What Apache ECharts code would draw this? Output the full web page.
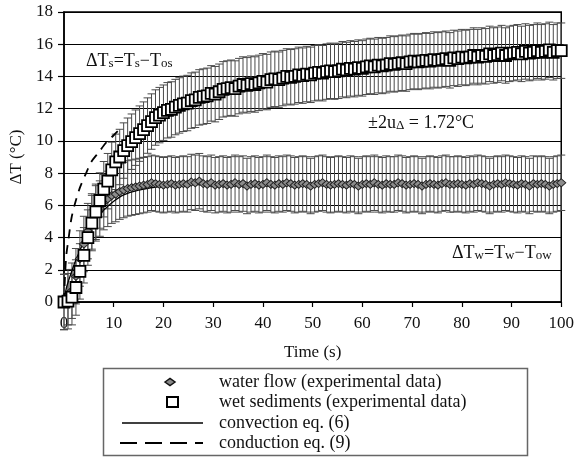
<!DOCTYPE html>
<html>
<head>
<meta charset="utf-8">
<script src="https://cdn.jsdelivr.net/npm/echarts@6/dist/echarts.min.js"></script>
<style>
html, body { margin: 0; padding: 0; background: #fff; }
#chart { width: 577px; height: 460px; }
</style>
</head>
<body>
<div id="chart"></div>
<script>
// sampling times (s)
var times = [
    0, 0.8, 1.6, 2.4, 3.2, 4, 4.8, 5.6, 6.4, 7.2,
    8, 8.8, 9.6, 10.4, 11.2, 12, 12.8, 13.6, 14.4, 15.2,
    16, 16.8, 17.6, 18.4, 19.2, 20, 20.8, 21.6, 22.4, 23.2,
    24, 24.8, 25.6, 26.4, 27.2, 28, 28.8, 29.6, 30.4, 31.2,
    32, 32.8, 33.6, 34.4, 35.2, 36, 36.8, 37.6, 38.4, 39.2,
    40, 40.8, 41.6, 42.4, 43.2, 44, 44.8, 45.6, 46.4, 47.2,
    48, 48.8, 49.6, 50.4, 51.2, 52, 52.8, 53.6, 54.4, 55.2,
    56, 56.8, 57.6, 58.4, 59.2, 60, 60.8, 61.6, 62.4, 63.2,
    64, 64.8, 65.6, 66.4, 67.2, 68, 68.8, 69.6, 70.4, 71.2,
    72, 72.8, 73.6, 74.4, 75.2, 76, 76.8, 77.6, 78.4, 79.2,
    80, 80.8, 81.6, 82.4, 83.2, 84, 84.8, 85.6, 86.4, 87.2,
    88, 88.8, 89.6, 90.4, 91.2, 92, 92.8, 93.6, 94.4, 95.2,
    96, 96.8, 97.6, 98.4, 99.2, 100
];

// water flow (experimental data)
var waterFlow = [
    0.0, 0.3, 0.7, 1.6, 2.7, 3.6, 4.4, 5.0, 5.5, 5.8,
    6.2, 6.4, 6.6, 6.7, 6.85, 6.95, 7.05, 7.1, 7.15, 7.2,
    7.25, 7.3, 7.4, 7.35, 7.3, 7.25, 7.3, 7.35, 7.25, 7.3,
    7.35, 7.3, 7.45, 7.4, 7.5, 7.35, 7.3, 7.4, 7.25, 7.3,
    7.35, 7.25, 7.3, 7.4, 7.3, 7.35, 7.2, 7.3, 7.35, 7.25,
    7.3, 7.4, 7.3, 7.25, 7.35, 7.3, 7.4, 7.35, 7.25, 7.3,
    7.35, 7.3, 7.2, 7.3, 7.35, 7.4, 7.3, 7.25, 7.3, 7.35,
    7.3, 7.25, 7.35, 7.3, 7.2, 7.3, 7.35, 7.3, 7.4, 7.3,
    7.25, 7.35, 7.3, 7.3, 7.4, 7.35, 7.25, 7.3, 7.35, 7.3,
    7.2, 7.3, 7.35, 7.3, 7.25, 7.35, 7.4, 7.3, 7.3, 7.35,
    7.3, 7.25, 7.35, 7.3, 7.4, 7.35, 7.3, 7.2, 7.3, 7.35,
    7.3, 7.4, 7.35, 7.3, 7.25, 7.35, 7.3, 7.2, 7.35, 7.3,
    7.35, 7.3, 7.2, 7.3, 7.35, 7.4
];

// wet sediments (experimental data)
var wetSediments = [
    0.0, 0.05, 0.3, 0.9, 1.9, 2.9, 4.0, 4.9, 5.6, 6.3,
    7.0, 7.5, 8.2, 8.7, 9.0, 9.4, 9.7, 9.95, 10.2, 10.45,
    10.7, 10.95, 11.2, 11.45, 11.6, 11.75, 11.9, 11.95, 12.1, 12.2,
    12.3, 12.35, 12.5, 12.55, 12.7, 12.75, 12.8, 12.95, 12.9, 13.05,
    13.2, 13.25, 13.3, 13.25, 13.4, 13.5, 13.45, 13.55, 13.5, 13.6,
    13.7, 13.65, 13.8, 13.85, 13.8, 13.9, 14.0, 13.95, 14.0, 14.1,
    14.05, 14.15, 14.1, 14.2, 14.25, 14.2, 14.3, 14.35, 14.3, 14.35,
    14.45, 14.4, 14.5, 14.45, 14.55, 14.5, 14.6, 14.65, 14.6, 14.7,
    14.65, 14.7, 14.8, 14.75, 14.8, 14.85, 14.8, 14.9, 14.95, 14.9,
    14.95, 15.0, 14.95, 15.05, 15.0, 15.05, 15.1, 15.0, 15.15, 15.1,
    15.2, 15.15, 15.2, 15.3, 15.2, 15.3, 15.25, 15.4, 15.3, 15.35,
    15.45, 15.3, 15.4, 15.45, 15.5, 15.4, 15.55, 15.45, 15.5, 15.6,
    15.5, 15.55, 15.65, 15.5, 15.6, 15.6
];

// convection eq. (6)
var convTimes = [0, 0.5, 1, 2, 3, 4, 5, 6, 7, 8, 10, 12, 15, 20, 25, 30, 40, 50, 60, 70, 80, 90, 100];
var convValues = [0, 0.9, 1.4, 2.3, 3.05, 3.75, 4.35, 4.9, 5.3, 5.7, 6.25, 6.65, 6.95, 7.2, 7.28, 7.3, 7.3, 7.3, 7.3, 7.3, 7.3, 7.3, 7.3];

// conduction eq. (9)
var condTimes = [0, 0.25, 0.5, 0.9, 1.5, 2.2, 3.2, 4.3, 5.5, 7, 8.5, 10, 10.8];
var condValues = [0, 1.9, 3.0, 3.9, 5.2, 6.1, 7.1, 7.9, 8.7, 9.3, 9.9, 10.35, 10.6];

// +-2u_delta
var errHalf = 1.72;

var serif = "'Liberation Serif', 'DejaVu Serif', serif";

function pairs(xs, ys) {
    return xs.map(function(x, i) { return [x, ys[i]]; });
}

function errorBars(name, values) {
    return {
        type: 'custom',
        name: name,
        silent: true,
        clip: false,
        z: 1,
        data: pairs(times, values),
        encode: { x: 0, y: 1 },
        renderItem: function(params, api) {
            var t = api.value(0), v = api.value(1);
            var hi = api.coord([t, v + errHalf]);
            var lo = api.coord([t, v - errHalf]);
            var w = 4;
            var st = { stroke: '#4a4a4a', lineWidth: 1 };
            return {
                type: 'group',
                children: [
                    { type: 'line', shape: { x1: hi[0], y1: hi[1], x2: lo[0], y2: lo[1] }, style: st },
                    { type: 'line', shape: { x1: hi[0] - w, y1: hi[1], x2: hi[0] + w, y2: hi[1] }, style: st },
                    { type: 'line', shape: { x1: lo[0] - w, y1: lo[1], x2: lo[0] + w, y2: lo[1] }, style: st }
                ]
            };
        }
    };
}

var mainRich = {
    m: { fontFamily: serif, fontSize: 18, lineHeight: 18, verticalAlign: 'top', fill: '#111' },
    s: { fontFamily: serif, fontSize: 13, lineHeight: 13, verticalAlign: 'bottom', fill: '#111' }
};

function note(x, y, text) {
    return {
        type: 'text', x: x, y: y, z: 20,
        style: { text: text, rich: mainRich, fill: '#111', verticalAlign: 'top', lineHeight: 22 }
    };
}

function legendText(y, text) {
    return {
        type: 'text', x: 219, y: y, z: 20,
        style: { text: text, fontFamily: serif, fontSize: 18, fill: '#111', verticalAlign: 'middle' }
    };
}

var dom = document.getElementById('chart');
var myChart = echarts.init(dom);

var option = {
    backgroundColor: '#FFFFFF',
    animation: false,
    grid: {
        left: 64,
        right: 12,
        top: 12,
        bottom: 158,
        show: true,
        borderColor: '#000',
        borderWidth: 1.5
    },
    xAxis: {
        type: 'value',
        min: 0,
        max: 100,
        interval: 10,
        name: 'Time (s)',
        nameLocation: 'middle',
        nameGap: 42,
        nameTextStyle: { fontFamily: serif, fontSize: 17, color: '#111' },
        axisLine: { lineStyle: { color: '#000', width: 1.5 } },
        axisTick: { inside: false, length: 5, lineStyle: { color: '#000', width: 1.2 } },
        axisLabel: { fontFamily: serif, fontSize: 17, color: '#111', margin: 13 },
        splitLine: { show: false }
    },
    yAxis: {
        type: 'value',
        min: 0,
        max: 18,
        interval: 2,
        name: 'ΔT (°C)',
        nameLocation: 'middle',
        nameGap: 30,
        nameRotate: 90,
        nameTextStyle: { fontFamily: serif, fontSize: 17, color: '#111' },
        axisLine: { lineStyle: { color: '#000', width: 1.5 } },
        axisTick: { inside: false, length: 6, lineStyle: { color: '#000', width: 1.2 } },
        axisLabel: { fontFamily: serif, fontSize: 17, color: '#111', margin: 11 },
        splitLine: { lineStyle: { color: '#000', width: 1.2 } }
    },
    series: [
        errorBars('water flow error', waterFlow),
        errorBars('wet sediments error', wetSediments),
        {
            type: 'line',
            name: 'convection eq. (6)',
            data: pairs(convTimes, convValues),
            showSymbol: false,
            smooth: 0.3,
            z: 3,
            lineStyle: { color: '#000', width: 1.3 }
        },
        {
            type: 'line',
            name: 'conduction eq. (9)',
            data: pairs(condTimes, condValues),
            showSymbol: false,
            smooth: 0.3,
            z: 3,
            lineStyle: { color: '#000', width: 1.8, type: [9, 7] }
        },
        {
            type: 'scatter',
            name: 'water flow (experimental data)',
            data: pairs(times, waterFlow),
            symbol: 'diamond',
            symbolSize: [9, 8],
            z: 4,
            itemStyle: { color: '#8c8c8c', borderColor: '#222', borderWidth: 1, opacity: 1 }
        },
        {
            type: 'scatter',
            name: 'wet sediments (experimental data)',
            data: pairs(times, wetSediments),
            symbol: 'rect',
            symbolSize: 11,
            z: 5,
            itemStyle: { color: '#fff', borderColor: '#000', borderWidth: 1.8, opacity: 1 }
        }
    ],
    graphic: [
        note(86, 52, '{m|ΔT}{s|s}{m|=T}{s|s}{m|−T}{s|os}'),
        note(368, 114, '{m|±2u}{s|Δ}{m| = 1.72°C}'),
        note(452, 244, '{m|ΔT}{s|w}{m|=T}{s|w}{m|−T}{s|ow}'),
        // legend box
        {
            type: 'rect', z: 15,
            shape: { x: 103.5, y: 368.5, width: 424, height: 87 },
            style: { fill: '#fff', stroke: '#666', lineWidth: 1.5 }
        },
        {
            type: 'polygon', z: 20,
            shape: { points: [[165, 382], [170, 378.5], [175, 382], [170, 385.5]] },
            style: { fill: '#888', stroke: '#111', lineWidth: 1.5 }
        },
        {
            type: 'rect', z: 20,
            shape: { x: 167, y: 397, width: 11, height: 10 },
            style: { fill: '#fff', stroke: '#000', lineWidth: 2 }
        },
        {
            type: 'line', z: 20,
            shape: { x1: 122, y1: 423, x2: 203, y2: 423 },
            style: { stroke: '#000', lineWidth: 1.5 }
        },
        {
            type: 'line', z: 20,
            shape: { x1: 120, y1: 443, x2: 203, y2: 443 },
            style: { stroke: '#000', lineWidth: 1.8, lineDash: [17, 8] }
        },
        legendText(382, 'water flow (experimental data)'),
        legendText(402, 'wet sediments (experimental data)'),
        legendText(423, 'convection eq. (6)'),
        legendText(443, 'conduction eq. (9)')
    ]
};

if (option && typeof option === 'object') {
    myChart.setOption(option);
}

window.onresize = function() {
    myChart.resize();
};
</script>
</body>
</html>
